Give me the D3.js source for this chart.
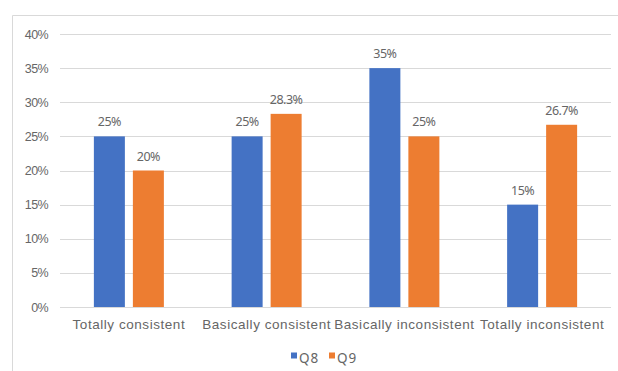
<!DOCTYPE html>
<html><head><meta charset="utf-8">
<script src="https://cdn.jsdelivr.net/npm/d3@7"></script>
<style>
body{margin:0;background:#fff;}
svg{display:block;font-family:"Noto Sans",sans-serif;}
</style></head>
<body><svg id="c" width="618" height="371"></svg>
<script>
const categories = ["Totally consistent","Basically consistent","Basically inconsistent","Totally inconsistent"];
const seriesNames = ["Q8","Q9"];
const q8 = [25,25,35,15];
const q9 = [20,28.3,25,26.7];
const q8Labels = ["25%","25%","35%","15%"];
const q9Labels = ["20%","28.3%","25%","26.7%"];
const yTicks = [0,5,10,15,20,25,30,35,40];
const colors = ["#4472C4","#ED7D31"];

(function(){
const svg = d3.select("#c");
const pLeft = 60, pRight = 611, pTop = 34, pBottom = 307;
const txt = "#666666";

svg.append("path").attr("d","M12.5,371 V15.5 H618").attr("fill","none").attr("stroke","#d9d9d9").attr("stroke-width",1);

const x = d3.scaleBand().domain(categories).range([pLeft,pRight]).paddingInner(0).paddingOuter(0);
const y = d3.scaleLinear().domain([0,40]).range([pBottom,pTop]);

const grid = svg.append("g");
grid.selectAll("line").data(yTicks).join("line")
  .attr("x1",pLeft).attr("x2",pRight)
  .attr("y1",d=>Math.round(y(d))+0.5).attr("y2",d=>Math.round(y(d))+0.5)
  .attr("stroke","#d9d9d9").attr("stroke-width",1);

const yAxis = svg.append("g").attr("transform",`translate(${pLeft},0)`)
  .call(d3.axisLeft(y).tickValues(yTicks).tickFormat(d=>d+"%").tickSize(0).tickPadding(12));
yAxis.select(".domain").remove();
yAxis.selectAll("text").attr("fill",txt).attr("font-size","12.5px").attr("letter-spacing","-0.6px");

const xAxis = svg.append("g").attr("transform",`translate(0,${pBottom})`)
  .call(d3.axisBottom(x).tickSize(0).tickPadding(11));
xAxis.select(".domain").remove();
xAxis.selectAll("text").attr("fill",txt).attr("font-size","13.5px").attr("letter-spacing","0.55px").attr("dy","0.78em");

const barW = 31, gap = 8;
const series = [q8,q9];
const labels = [q8Labels,q9Labels];
series.forEach((vals,si)=>{
  const g = svg.append("g");
  const off = si===0 ? -(gap/2+barW) : gap/2;
  g.selectAll("rect").data(vals).join("rect")
    .attr("x",(d,i)=>x(categories[i])+x.bandwidth()/2+off)
    .attr("y",d=>y(d))
    .attr("width",barW)
    .attr("height",d=>y(0)-y(d))
    .attr("fill",colors[si]);
  g.selectAll("text").data(vals).join("text")
    .attr("x",(d,i)=>x(categories[i])+x.bandwidth()/2+off+barW/2)
    .attr("y",d=>y(d)-10)
    .attr("text-anchor","middle")
    .attr("fill",txt).attr("font-size","12.5px").attr("letter-spacing","-0.5px")
    .text((d,i)=>labels[si][i]);
});

const leg = svg.append("g");
const legX = [291,329];
seriesNames.forEach((n,i)=>{
  leg.append("rect").attr("x",legX[i]).attr("y",352.5).attr("width",6).attr("height",6).attr("fill",colors[i]);
  leg.append("text").attr("x",legX[i]+8).attr("y",362.5).attr("fill",txt).attr("font-size","13.5px").attr("letter-spacing","1px").text(n);
});
})();
</script></body></html>
